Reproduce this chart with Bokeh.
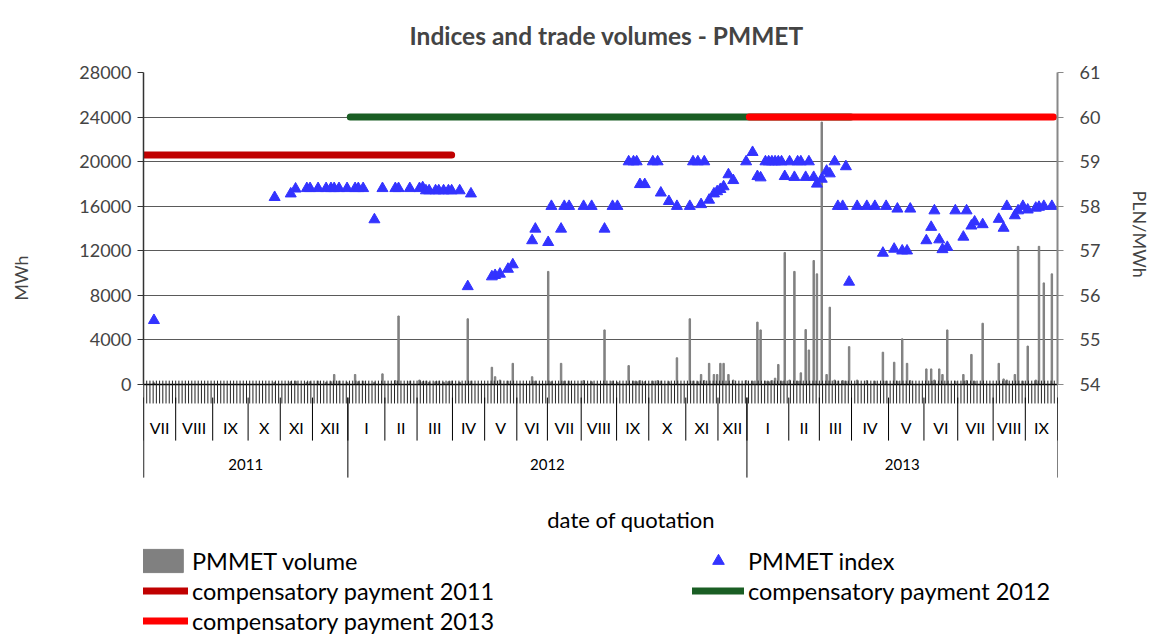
import numpy as np
from bokeh.plotting import figure
from bokeh.models import (Range1d, LinearAxis, FixedTicker, Legend, LegendItem,
                          ColumnDataSource, Title)
from bokeh.core.properties import value
from bokeh.embed import file_html
from bokeh.resources import INLINE

# ---------------- data ----------------
month_labels = ["VII", "VIII", "IX", "X", "XI", "XII",
                "I", "II", "III", "IV", "V", "VI", "VII", "VIII", "IX", "X", "XI", "XII",
                "I", "II", "III", "IV", "V", "VI", "VII", "VIII", "IX"]
sessions_per_month = [20, 23, 22, 20, 20, 22,
                      23, 20, 22, 20, 20, 19, 21, 22, 20, 23, 20, 18,
                      26, 19, 20, 23, 22, 21, 22, 20, 20]
year_labels = ["2011", "2012", "2013"]
months_per_year = [6, 12, 9]

# PMMET index (PLN/MWh) by session number
index_session = [6, 81, 91, 94, 101, 103, 108, 113, 116, 118, 121, 126, 131, 133, 136,
                 143, 148, 156, 158, 165, 171, 173, 175, 177, 181, 183, 186, 189, 191, 196,
                 201, 203, 216, 218, 221, 226, 229, 241, 243, 251, 253, 259, 261, 264, 273,
                 278, 286, 291, 294, 301, 304, 306, 308, 311, 316, 319, 321, 326, 331, 339,
                 341, 344, 346, 348, 351, 354, 356, 358, 360, 363, 366, 374, 378, 381, 383,
                 386, 388, 390, 392, 394, 396, 398, 401, 404, 406, 408, 411, 413, 416, 418,
                 421, 424, 426, 429, 431, 434, 436, 438, 443, 449, 454, 459, 461, 466, 468,
                 471, 474, 476, 486, 489, 491, 494, 496, 499, 504, 509, 511, 514, 516, 521,
                 531, 534, 536, 541, 543, 546, 549, 554, 556, 559, 564]
index_value = [55.44, 58.20, 58.28, 58.39, 58.40, 58.40, 58.40, 58.40, 58.40, 58.40, 58.40, 58.40, 58.40, 58.40, 58.40,
               57.70, 58.40, 58.40, 58.40, 58.40, 58.40, 58.42, 58.35, 58.35, 58.35, 58.35, 58.35, 58.35, 58.35, 58.35,
               56.20, 58.28, 56.42, 56.45, 56.48, 56.59, 56.69, 57.23, 57.49, 57.19, 58.00, 57.49, 58.00, 58.00, 58.00,
               58.00, 57.49, 58.00, 58.00, 59.00, 59.00, 59.00, 58.49, 58.49, 59.00, 59.00, 58.30, 58.11, 58.00, 58.00,
               59.00, 59.00, 58.04, 59.00, 58.14, 58.28, 58.33, 58.38, 58.44, 58.71, 58.58, 59.00, 59.21, 58.67, 58.64,
               59.00, 59.00, 59.00, 59.00, 59.00, 59.00, 58.67, 59.00, 58.65, 59.00, 59.00, 58.65, 59.00, 58.65, 58.50,
               58.61, 58.79, 58.73, 59.00, 58.00, 58.00, 58.89, 56.30, 58.00, 58.00, 58.00, 56.95, 58.00, 57.04, 57.94,
               57.00, 57.00, 57.94, 57.23, 57.53, 57.90, 57.25, 57.03, 57.08, 57.90, 57.31, 57.90, 57.56, 57.65, 57.59,
               57.71, 57.51, 58.00, 57.79, 57.90, 58.00, 57.92, 57.96, 57.98, 58.00, 58.00]

# PMMET volume (MWh) by session number
volume_session = [6, 81, 91, 94, 101, 103, 108, 113, 116, 118, 121, 126, 131, 133, 136,
                  143, 148, 156, 158, 165, 171, 173, 175, 177, 181, 183, 186, 189, 191, 196,
                  201, 203, 216, 218, 221, 226, 229, 241, 243, 251, 253, 259, 261, 264, 273,
                  278, 286, 291, 294, 301, 304, 306, 308, 311, 316, 319, 321, 326, 331, 339,
                  341, 344, 346, 348, 351, 354, 356, 358, 360, 363, 366, 374, 378, 381, 383,
                  386, 388, 390, 392, 394, 396, 398, 401, 404, 406, 408, 411, 413, 416, 418,
                  421, 424, 426, 429, 431, 434, 436, 438, 443, 449, 454, 459, 461, 466, 468,
                  471, 474, 476, 486, 489, 491, 494, 496, 499, 504, 509, 511, 514, 516, 521,
                  531, 534, 536, 541, 543, 546, 549, 554, 556, 559, 564]
volume_value = [150, 200, 250, 300, 200, 250, 300, 200, 250, 900, 300, 200, 900, 250, 300,
                200, 960, 350, 6150, 300, 400, 250, 300, 200, 250, 300, 200, 250, 300, 200,
                5900, 300, 1550, 700, 400, 300, 1900, 700, 300, 10150, 250, 1900, 300, 300, 350,
                250, 4900, 300, 200, 1700, 300, 250, 350, 250, 300, 350, 300, 250, 2400, 5900,
                300, 250, 900, 350, 1900, 900, 900, 1900, 1900, 900, 400, 350, 300, 5600, 4900,
                300, 250, 350, 570, 1800, 300, 11850, 400, 10150, 300, 1050, 4930, 3100, 11130, 9930,
                23550, 900, 6940, 400, 300, 350, 300, 3400, 400, 350, 300, 2900, 300, 2000, 300,
                4100, 1900, 350, 1400, 1400, 400, 1400, 900, 4900, 300, 900, 350, 2700, 300, 5500,
                1900, 500, 400, 900, 12400, 300, 3450, 400, 12400, 9120, 9930]

payment_labels = ["compensatory payment 2011", "compensatory payment 2012", "compensatory payment 2013"]
payment_start = [0.5, 128.5, 376.5]
payment_end = [191.5, 439.5, 565.5]
payment_level = [59.15, 60.0, 60.0]

left_ticks = [0, 4000, 8000, 12000, 16000, 20000, 24000, 28000]
right_ticks = [54, 55, 56, 57, 58, 59, 60, 61]

# ---------------- styling / layout ----------------
FONT = "Lato"
PAY_COLORS = ["#C00000", "#1A5E24", "#FF0000"]
BAR_COLOR = "#808080"
TRI_COLOR = "#3333FF"
Y_MIN = -22700          # frame extends below zero for category labels + legend
MWH_PER_PLN = 4000      # 28000 MWh <-> 7 PLN/MWh span

TICK_TOP, TICK_BOTTOM = 350, -1700
SEP_TOP, MONTH_SEP_BOTTOM, YEAR_SEP_BOTTOM = -1170, -5030, -8350
MONTH_LABEL_Y, YEAR_LABEL_Y, XLABEL_Y = -3860, -7180, -12115

month_edges = np.concatenate([[0], np.cumsum(sessions_per_month)])
n_sessions = int(month_edges[-1])
year_edges = month_edges[np.concatenate([[0], np.cumsum(months_per_year)])]

p = figure(width=1158, height=637, output_backend="svg", toolbar_location=None,
           x_range=Range1d(0, n_sessions), y_range=Range1d(Y_MIN, 28000),
           x_axis_location=None, min_border_left=143, min_border_right=101,
           min_border_top=72, min_border_bottom=0, outline_line_color=None)
p.extra_y_ranges = {"pln": Range1d(54 + Y_MIN / MWH_PER_PLN, 61)}
p.xgrid.visible = False

p.title.text = "Indices and trade volumes - PMMET"
p.title.align = "left"
p.title.vertical_align = "top"
p.title.text_font = FONT
p.title.text_font_size = "24.5px"
p.title.text_font_style = "bold"
p.title.offset = 266
p.title.standoff = 41

# left axis
ya = p.yaxis[0]
ya.bounds = (0, 28000)
ya.ticker = FixedTicker(ticks=left_ticks)
ya.minor_tick_line_color = None
ya.major_tick_in = 0
ya.major_tick_out = 6
ya.axis_line_color = "#333333"
ya.axis_line_width = 1.5
ya.major_tick_line_color = "#333333"
ya.major_label_text_font = FONT
ya.major_label_text_font_size = "18px"
ya.major_label_standoff = 6
ya.axis_label = " "                 # spacer pushing the axis title outward
ya.axis_label_text_font_size = "8px"
ya.axis_label_standoff = 28

p.ygrid.ticker = FixedTicker(ticks=left_ticks[1:])
p.ygrid.grid_line_color = "#5a5a5a"
p.ygrid.grid_line_width = 1

# right axis
ra = LinearAxis(y_range_name="pln", bounds=(54, 61), ticker=FixedTicker(ticks=right_ticks))
ra.minor_tick_line_color = None
ra.major_tick_in = 0
ra.major_tick_out = 6
ra.axis_line_color = "#888888"
ra.axis_line_width = 2
ra.major_tick_line_color = "#888888"
ra.major_label_text_font = FONT
ra.major_label_text_font_size = "18px"
ra.major_label_standoff = 16
ra.axis_label = " "
ra.axis_label_text_font_size = "8px"
ra.axis_label_standoff = 10
p.add_layout(ra, "right")

# axis titles
p.add_layout(Title(text="MWh", align="right", offset=183, standoff=10, text_font=FONT,
                   text_font_size="18px", text_font_style="normal"), "left")
p.add_layout(Title(text="PLN/MWh", align="left", offset=118, standoff=6, text_font=FONT,
                   text_font_size="18px", text_font_style="normal"), "right")

# volume bars
vsrc = ColumnDataSource(dict(x=[s + 0.5 for s in volume_session], top=volume_value))
bars = p.vbar(x="x", top="top", bottom=0, width=0.9, source=vsrc,
              fill_color=BAR_COLOR, line_color=BAR_COLOR)

# zero axis line and category ticks
p.segment(x0=[0], x1=[n_sessions], y0=[0], y1=[0], line_color="black", line_width=1.5)
tick_x = np.arange(0, n_sessions + 1, 2)
p.segment(x0=tick_x, x1=tick_x, y0=TICK_TOP, y1=TICK_BOTTOM, line_color="#222222", line_width=1)

# month / year separators and labels
p.segment(x0=month_edges, x1=month_edges, y0=SEP_TOP, y1=MONTH_SEP_BOTTOM,
          line_color="black", line_width=1)
p.segment(x0=year_edges, x1=year_edges, y0=SEP_TOP, y1=YEAR_SEP_BOTTOM,
          line_color="black", line_width=1)
p.segment(x0=[0], x1=[0], y0=[0], y1=[YEAR_SEP_BOTTOM], line_color="#333333", line_width=1.5)
month_centers = (month_edges[:-1] + month_edges[1:]) / 2
p.text(x=month_centers, y=[MONTH_LABEL_Y] * len(month_labels), text=month_labels,
       text_align="center", text_baseline="middle", text_font=value(FONT),
       text_font_size="16px", text_color="black")
year_centers = (year_edges[:-1] + year_edges[1:]) / 2
p.text(x=year_centers, y=[YEAR_LABEL_Y] * len(year_labels), text=year_labels,
       text_align="center", text_baseline="middle", text_font=value(FONT),
       text_font_size="15px", text_color="black")
p.text(x=[n_sessions / 2 + 19], y=[XLABEL_Y], text=["date of quotation"],
       text_align="center", text_baseline="middle", text_font=value(FONT),
       text_font_size="22px", text_color="black")

# compensatory payment lines
pay_renderers = []
for s, e, lv, c in zip(payment_start, payment_end, payment_level, PAY_COLORS):
    r = p.line(x=[s, e], y=[lv, lv], y_range_name="pln", line_color=c,
               line_width=7, line_cap="round")
    pay_renderers.append(r)

# index markers (a small copy of the first point serves as the legend glyph)
isrc = ColumnDataSource(dict(x=[s + 0.5 for s in index_session], y=index_value))
legend_tri = p.scatter(x=[index_session[0] + 0.5], y=[index_value[0]], y_range_name="pln",
                       marker="triangle", size=7, fill_color=TRI_COLOR, line_color=TRI_COLOR)
tri = p.scatter(x="x", y="y", source=isrc, y_range_name="pln", marker="triangle",
                size=11, fill_color=TRI_COLOR, line_color=TRI_COLOR)


def make_legend(items, loc):
    lg = Legend(items=items, location=loc, orientation="vertical",
                border_line_color=None, background_fill_alpha=0, padding=0, margin=0,
                spacing=1, glyph_width=52, glyph_height=29, label_height=29,
                label_standoff=4, label_text_font=FONT, label_text_font_size="23.5px",
                label_text_color="black")
    p.add_layout(lg)
    return lg


make_legend([LegendItem(label="PMMET volume", renderers=[bars]),
             LegendItem(label=payment_labels[0], renderers=[pay_renderers[0]]),
             LegendItem(label=payment_labels[2], renderers=[pay_renderers[2]])], (-7, 2))
make_legend([LegendItem(label="PMMET index", renderers=[legend_tri]),
             LegendItem(label=payment_labels[1], renderers=[pay_renderers[1]])], (549, 32))

open("out.html", "w").write(file_html(p, INLINE))
